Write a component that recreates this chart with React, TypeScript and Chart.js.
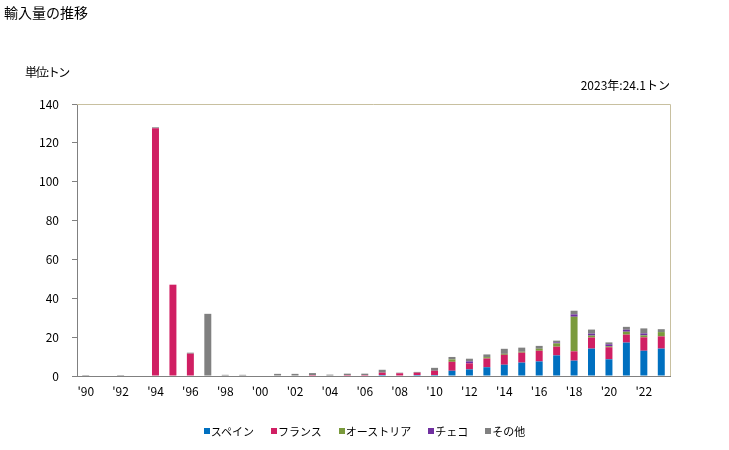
import React, { useEffect, useRef } from "react";
import { Chart, registerables } from "chart.js";

Chart.register(...registerables);

const years: number[] = [];
for (let y = 1990; y <= 2023; y++) years.push(y);
const labels = years.map((y) => "'" + String(y).slice(2));

const spain = [0, 0, 0, 0, 0, 0, 0, 0, 0, 0, 0, 0, 0, 0, 0, 0, 0, 0.5, 0, 0.5, 0.5, 2.7, 3.4, 4.5, 5.8, 6.9, 7.5, 10.6, 7.9, 14.1, 8.6, 17.2, 13.0, 14.1];
const france = [0, 0, 0, 0, 127.5, 47, 11.5, 0, 0, 0, 0, 0, 0, 0.5, 0, 0.5, 0.5, 1.2, 1.4, 1.2, 2.2, 4.6, 3.1, 4.5, 5.1, 5.1, 5.5, 4.5, 4.8, 5.7, 6.2, 4.1, 6.9, 6.3];
const austria = [0, 0, 0, 0, 0, 0, 0, 0, 0, 0, 0, 0, 0, 0, 0, 0, 0, 0, 0, 0, 0, 1.2, 0, 0.7, 0.5, 0.5, 1.0, 1.7, 17.8, 1.0, 0.5, 1.5, 1.0, 2.2];
const czech = [0, 0, 0, 0, 0, 0, 0, 0, 0, 0, 0, 0, 0, 0, 0, 0, 0, 0, 0, 0, 0, 0, 1.0, 0, 0, 0, 0, 0.5, 1.2, 1.0, 1.0, 1.0, 1.0, 0];
const others = [0.5, 0, 0.5, 0, 0.5, 0, 0.5, 32, 0.6, 0.6, 0, 1.1, 1.1, 1.0, 0.7, 0.7, 0.7, 1.5, 0.3, 0.4, 1.5, 1.3, 1.4, 1.4, 2.6, 2.1, 1.5, 0.9, 1.9, 2.1, 1.0, 1.5, 2.6, 1.5];

const seriesNames = ["スペイン", "フランス", "オーストリア", "チェコ", "その他"];
const seriesColors = ["#0070c0", "#d01f63", "#7a9a3c", "#7030a0", "#808080"];
const seriesData = [spain, france, austria, czech, others];

const FONT = '"Noto Sans CJK JP", "DejaVu Sans", sans-serif';

const frameBorder = {
  id: "frameBorder",
  afterDraw(chart: any) {
    const { ctx, chartArea } = chart;
    ctx.save();
    ctx.strokeStyle = "#c8c0a0";
    ctx.lineWidth = 1;
    ctx.beginPath();
    ctx.moveTo(chartArea.left, chartArea.top + 0.5);
    ctx.lineTo(chartArea.right + 0.5, chartArea.top + 0.5);
    ctx.lineTo(chartArea.right + 0.5, chartArea.bottom);
    ctx.stroke();
    ctx.restore();
  },
};

export default function App() {
  const ref = useRef<HTMLCanvasElement>(null);
  useEffect(() => {
    if (!ref.current) return;
    const chart = new Chart(ref.current, {
      type: "bar",
      data: {
        labels,
        datasets: seriesNames.map((n, i) => ({
          label: n,
          data: seriesData[i],
          backgroundColor: seriesColors[i],
          borderWidth: 0,
          barPercentage: 0.8,
          categoryPercentage: 0.5,
        })),
      },
      plugins: [frameBorder],
      options: {
        responsive: false,
        animation: false,
        layout: { padding: { top: 104, right: 59, bottom: 44, left: 0 } },
        plugins: {
          legend: { display: false },
          tooltip: { enabled: false },
          title: { display: false },
        },
        scales: {
          x: {
            stacked: true,
            afterFit: (s: any) => {
              s.height = 30;
            },
            grid: { display: false, drawTicks: false },
            border: { color: "#808080", width: 1 },
            ticks: {
              autoSkip: false,
              maxRotation: 0,
              padding: 8,
              color: "#000",
              font: { family: FONT, size: 12 },
              callback: (_v: any, i: number) => (i % 2 === 0 ? labels[i] : ""),
            },
          },
          y: {
            stacked: true,
            min: 0,
            max: 140,
            afterFit: (s: any) => {
              s.width = 77;
            },
            grid: { drawOnChartArea: false, drawTicks: true, tickLength: 5, color: "#808080" },
            border: { color: "#808080", width: 1 },
            ticks: {
              stepSize: 20,
              padding: 13,
              color: "#000",
              font: { family: FONT, size: 12 },
            },
          },
        },
      },
    });
    return () => chart.destroy();
  }, []);

  const textStyle: React.CSSProperties = {
    position: "absolute",
    fontFamily: FONT,
    color: "#000",
    whiteSpace: "nowrap",
    lineHeight: 1,
  };

  return (
    <div style={{ position: "absolute", left: 0, top: 0, width: 729, height: 450, background: "#fff" }}>
      <canvas ref={ref} width={729} height={450} style={{ position: "absolute", left: 0, top: 0, width: 729, height: 450 }} />
      <div style={{ ...textStyle, left: 4, top: 5, fontSize: 14 }}>輸入量の推移</div>
      <div style={{ ...textStyle, left: 25, top: 66, fontSize: 12, letterSpacing: -1.5 }}>単位:トン</div>
      <div style={{ ...textStyle, right: 729 - 670, top: 79, fontSize: 12 }}>2023年:24.1トン</div>
      <div
        style={{
          position: "absolute",
          left: 0,
          top: 423,
          width: 729,
          display: "flex",
          justifyContent: "center",
          gap: 17,
          fontFamily: FONT,
          fontSize: 11,
          lineHeight: "16px",
        }}
      >
        {seriesNames.map((n, i) => (
          <div key={n} style={{ display: "flex", alignItems: "center" }}>
            <span style={{ display: "inline-block", width: 6, height: 6, background: seriesColors[i], marginRight: 1 }} />
            <span>{n}</span>
          </div>
        ))}
      </div>
    </div>
  );
}
